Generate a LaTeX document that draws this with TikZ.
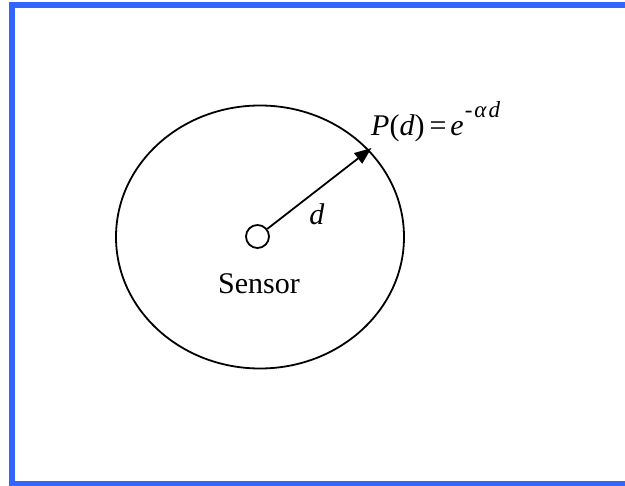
\documentclass[tikz,border=0pt]{standalone}
\usepackage{fontspec}
\setmainfont{Liberation Serif}
\usetikzlibrary{arrows.meta,shapes.geometric}
\definecolor{frameblue}{RGB}{51,102,255}
\tikzset{
  lbl/.style={inner sep=0pt, font=\fontsize{30}{36}\selectfont},
  curve/.style={line width=1.8pt, black},
}
\begin{document}
\begin{tikzpicture}[x=1pt,y=-1pt]
\useasboundingbox (0,0) rectangle (625,486);
\clip (0,0) rectangle (625,486);
\fill[white] (0,0) rectangle (625,486);
% frame (cut off on right and bottom)
\draw[frameblue, line width=6pt] (11.5,5.5) rectangle (640,484.5);
% coverage ellipse
\node[curve, draw, ellipse, inner sep=0pt, minimum width=288pt, minimum height=263pt] (cov) at (260,237) {};
% sensor
\node[curve, draw, circle, minimum size=23pt, inner sep=0pt] (sensor) at (257.5,236.5) {};
\coordinate (tip) at (371.5,148);
\draw[curve, -{Triangle[length=17pt,width=13pt]}] (sensor) -- (tip);
\node[lbl, anchor=base] (slabel) at (259,294) {Sensor};
\node[lbl, anchor=base] (dlabel) at (317,225) {\textit{d}};
\node[lbl, anchor=base west] (plabel) at (371,136) {\textit{P}(\textit{d})\hspace{5pt}=\hspace{4pt}\textit{e}\raisebox{18pt}{\fontsize{23}{24}\selectfont\kern1pt-\kern2pt\textit{α\kern2pt d}}};
\end{tikzpicture}
\end{document}
